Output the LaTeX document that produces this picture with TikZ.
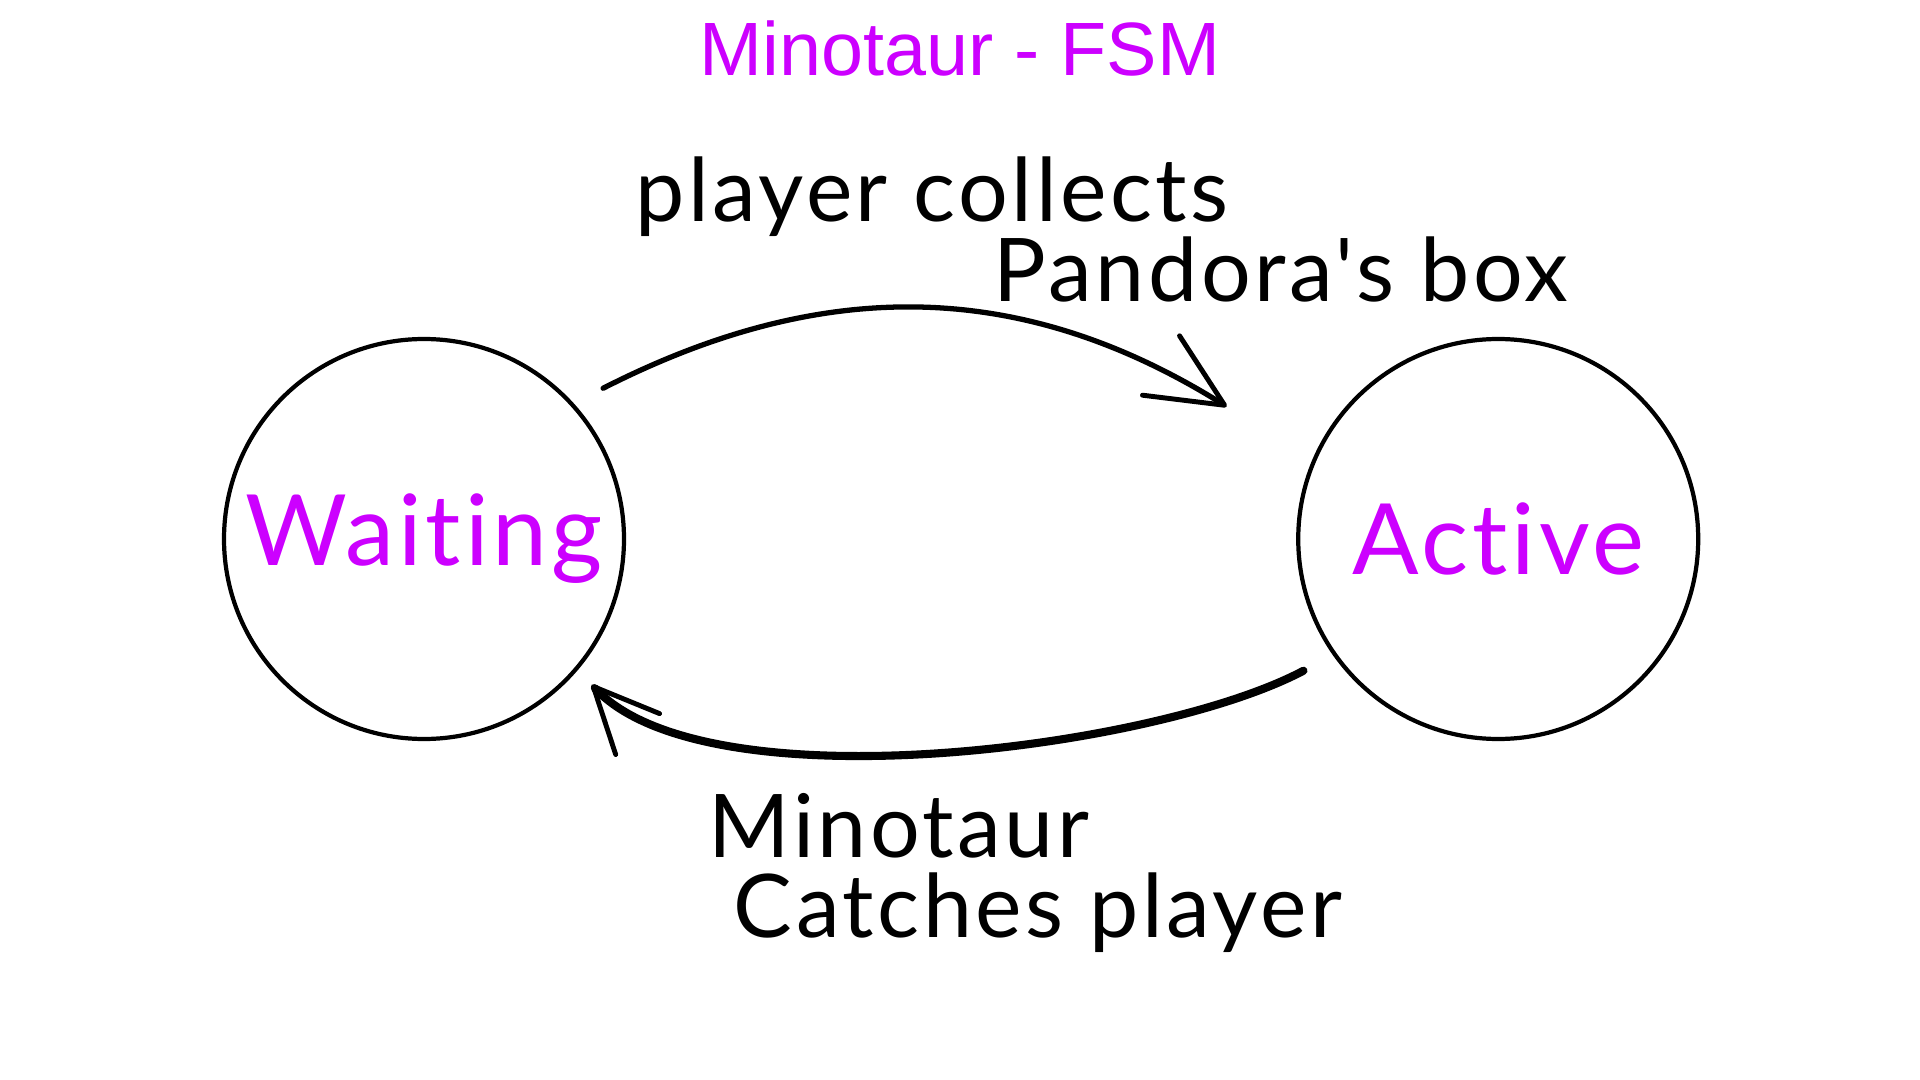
\documentclass[tikz,border=0pt]{standalone}
\usepackage{fontspec}
\setmainfont{Liberation Sans}
\newfontfamily\handfont[Ligatures={NoCommon},LetterSpace=4]{Lato}
\usetikzlibrary{positioning}
\usetikzlibrary{arrows.meta}
\definecolor{fsmpink}{RGB}{204,0,255}
\tikzset{
    fsmnode/.style = {circle, draw=black, line width=1.2pt, minimum size=4cm, inner sep=0pt, text=fsmpink, font=\handfont\fontsize{28}{30}\selectfont},
    fsmtitle/.style = {text=fsmpink, inner sep=0pt, font=\fontsize{21.5}{24}\selectfont},
    handlbl/.style = {inner sep=0pt, anchor=base, font=\handfont\fontsize{25}{28}\selectfont},
    edgeup/.style = {line width=1.5pt, line cap=round, -{Straight Barb[length=7.5mm,width=7mm,line width=1.4pt,round]}},
    edgedn/.style = {line width=2.3pt, line cap=round, -{Straight Barb[length=6.5mm,width=6mm,line width=1.4pt,round]}}
}

\begin{document}
\begin{tikzpicture}
  \useasboundingbox (0,0) rectangle (19.2,-10.8);
  \node[fsmtitle,anchor=base] (title) at (9.6,-0.76) {Minotaur - FSM};
  % the two states
  \node[fsmnode] (waiting) at (4.24,-5.39) {Waiting};
  \node[fsmnode,right=6.7cm of waiting] (active) {Active};
  % transitions
  \draw[edgeup] ([shift={(40.6:0.32)}]waiting.40.6) to[out=27,in=148] ([shift={(154:1.0)}]active.154);
  \draw[edgedn] ([shift={(214.5:0.33)}]active.214.5) to[out=208,in=-47,looseness=.6] ([shift={(-41:0.2)}]waiting.-41);
  % labels
  \node[handlbl] (collects) at (9.32,-2.22) {player collects};
  \node[handlbl] (box) at (12.81,-3.02) {Pandora's box};
  \node[handlbl] (mino) at (8.99,-8.57) {Minotaur};
  \node[handlbl] (catches) at (10.38,-9.37) {Catches player};
\end{tikzpicture}
\end{document}
